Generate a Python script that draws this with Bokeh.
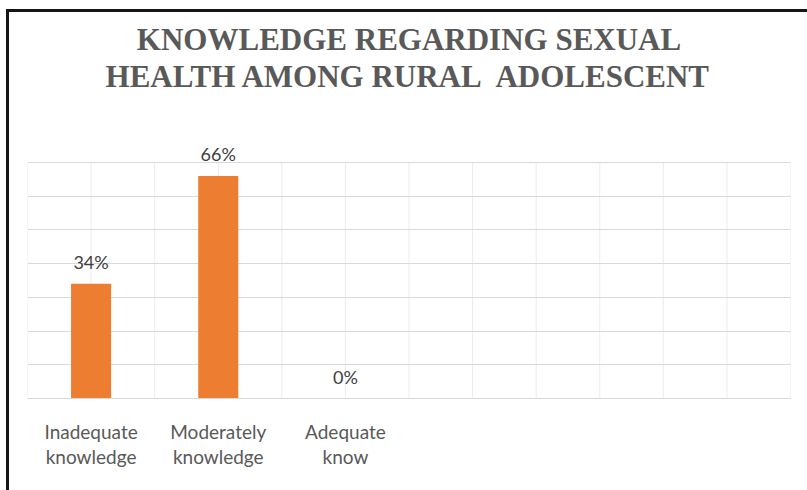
from bokeh.plotting import figure
from bokeh.models import ColumnDataSource, Range1d, FixedTicker, Title
from bokeh.core.properties import value
from bokeh.embed import file_html
from bokeh.resources import INLINE

# ---- data ----
categories = ["Inadequate\nknowledge", "Moderately\nknowledge", "Adequate\nknow"]
values = [34, 66, 0]
value_labels = ["34%", "66%", "0%"]
n_slots = 6
y_max = 70
y_step = 10
title_lines = ["KNOWLEDGE REGARDING SEXUAL", "HEALTH AMONG RURAL\u00a0 ADOLESCENT"]

# ---- layout ----
y_view_max = 76.5   # a little head-room above the 70 line for the data labels

xs = [i + 0.5 for i in range(len(categories))]
src = ColumnDataSource(dict(x=xs, top=values, lab=value_labels))

p = figure(width=807, height=490, output_backend="svg", toolbar_location=None,
           x_range=Range1d(0, n_slots), y_range=Range1d(0, y_view_max),
           min_border_left=27, min_border_right=17, min_border_top=140,
           min_border_bottom=92, title=None)
p.outline_line_color = None
p.background_fill_color = "white"
p.border_fill_alpha = 0
p.styles = {
    "background-color": "white",
    "background-image": "linear-gradient(#151515,#151515), linear-gradient(#151515,#151515)",
    "background-size": "3px 100%, 100% 3px",
    "background-position": "6px 9px, 6px 9px",
    "background-repeat": "no-repeat",
}

# vertical grid lines (stop at the top of the value scale)
gx = [i * 0.5 for i in range(2 * n_slots + 1)]
p.segment(x0=gx, y0=[0] * len(gx), x1=gx, y1=[y_max] * len(gx),
          line_color="#ececec", line_width=1, level="underlay")

p.xgrid.visible = False
p.ygrid.ticker = FixedTicker(ticks=list(range(0, y_max + 1, y_step)))
p.ygrid.grid_line_color = "#d9d9d9"
p.ygrid.grid_line_width = 1

p.vbar(x="x", top="top", width=0.315, bottom=0, source=src,
       fill_color="#ED7D31", line_color=None)

p.text(x="x", y="top", text="lab", source=src, text_align="center",
       text_baseline="alphabetic", y_offset=-22,
       text_font=value("Lato"), text_font_size="18px", text_color="#404040")

p.yaxis.visible = False
p.xaxis.ticker = FixedTicker(ticks=xs)
p.xaxis.major_label_overrides = {x: c for x, c in zip(xs, categories)}
p.xaxis.major_tick_line_color = None
p.xaxis.minor_tick_line_color = None
p.xaxis.axis_line_color = "#d9d9d9"
p.xaxis.axis_line_width = 1
p.xaxis.major_label_text_font = "Lato"
p.xaxis.major_label_text_font_size = "19px"
p.xaxis.major_label_text_color = "#595959"
p.xaxis.major_label_text_line_height = 1.1
p.xaxis.major_label_standoff = 15

# spacer between the plot area and the title lines
p.add_layout(Title(text="\u00a0", standoff=44, text_font_size="1px"), "above")
for t in reversed(title_lines):
    p.add_layout(Title(text=t, align="center", standoff=0,
                       text_font="Liberation Serif", text_font_style="bold",
                       text_font_size="31px", text_color="#595959"), "above")

open("out.html", "w").write(file_html(p, INLINE))
